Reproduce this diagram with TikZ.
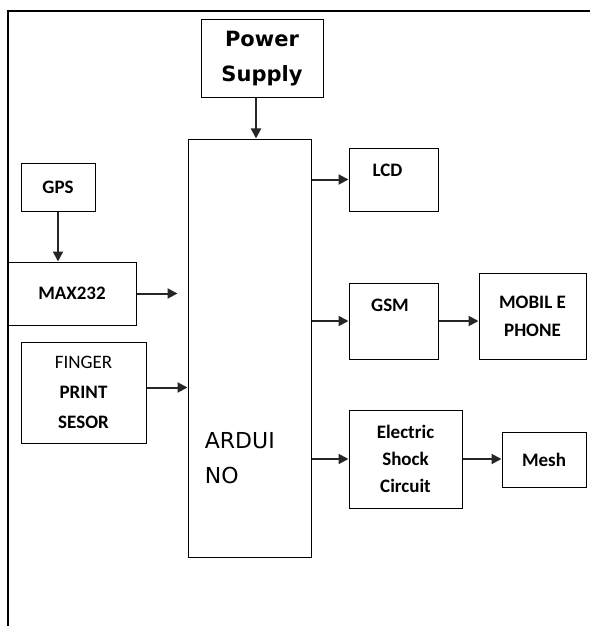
\documentclass[tikz,border=0pt]{standalone}
\usepackage{fontspec}
\setmainfont{Carlito}
\newfontfamily\dejavu{DejaVu Sans}
\usetikzlibrary{arrows.meta}

\begin{document}
\begin{tikzpicture}[x=0.5pt,y=-0.5pt,>={Triangle[length=5pt,width=5pt]}]
  \tikzstyle{blk}=[rectangle,draw=black,line width=0.5pt,inner sep=0pt,align=center,font=\fontsize{9.5}{13.5}\selectfont\bfseries]
  \tikzstyle{link}=[->,line width=1pt,draw=black!85]

  \useasboundingbox (0,0) rectangle (590,626);
  \draw[line width=0.6pt] (8,626) -- (8,11) -- (590,11);

  % inputs
  \node[blk,minimum width=61pt,minimum height=39pt,font=\dejavu\bfseries\fontsize{10.5}{17.5}\selectfont] (power) at (262,59) {Power\\Supply};
  \node[blk,minimum width=37pt,minimum height=24pt] (gps) at (58,187) {GPS};
  \node[blk,minimum width=64pt,minimum height=31.5pt] (max) at (72,293.5) {MAX232};
  \node[blk,minimum width=62.5pt,minimum height=50.5pt,font=\fontsize{9.5}{15}\selectfont] (finger) at (83.5,392.5) {FINGER\\\bfseries PRINT\\\bfseries SESOR};

  % controller
  \node[blk,minimum width=61.5pt,minimum height=209pt,
    label={[anchor=west,inner sep=0pt,xshift=8.5pt,yshift=-55pt,align=left,font=\dejavu\fontsize{11}{17.5}\selectfont]west:ARDUI\\NO}] (ard) at (249.5,348) {};

  % outputs
  \node[blk,minimum width=44.5pt,minimum height=31.5pt,
    label={[xshift=-3pt,yshift=4.75pt,font=\fontsize{9.5}{13.5}\selectfont\bfseries]center:LCD}] (lcd) at (393.5,179.5) {};
  \node[blk,minimum width=44.5pt,minimum height=38pt,
    label={[xshift=-1.75pt,yshift=8pt,font=\fontsize{9.5}{13.5}\selectfont\bfseries]center:GSM}] (gsm) at (393.5,321) {};
  \node[blk,minimum width=53.5pt,minimum height=43pt,font=\fontsize{9.5}{14}\selectfont\bfseries] (mob) at (532.5,316) {MOBIL E\\PHONE};
  \node[blk,minimum width=56.5pt,minimum height=49pt] (elec) at (405.5,459) {Electric\\Shock\\Circuit};
  \node[blk,minimum width=42pt,minimum height=27.5pt] (mesh) at (544,459.5) {Mesh};

  \draw[link] ([xshift=-3pt]power.south) -- ([xshift=-3pt]power.south |- ard.north);
  \draw[link] (gps.south) -- (gps.south |- max.north);
  \draw[link,shorten >=5pt] (max.east) -- (max.east -| ard.west);
  \draw[link] ([yshift=2.5pt]finger.east) -- ([yshift=2.5pt]finger.east -| ard.west);
  \draw[link] (lcd.west -| ard.east) -- (lcd.west);
  \draw[link] (gsm.west -| ard.east) -- (gsm.west);
  \draw[link] (elec.west -| ard.east) -- (elec.west);
  \draw[link] (gsm.east) -- (gsm.east -| mob.west);
  \draw[link] (elec.east) -- (elec.east -| mesh.west);
\end{tikzpicture}
\end{document}
